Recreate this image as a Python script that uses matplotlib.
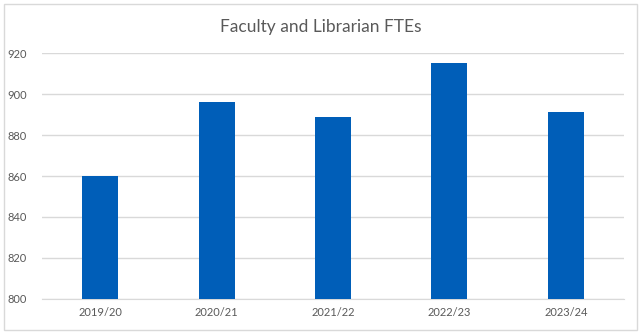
from matplotlib import pyplot as plt
from matplotlib.patches import Rectangle

# データ
years = ['2019/20', '2020/21', '2021/22', '2022/23', '2023/24']
ftes = [860, 896, 889, 915, 891]

plt.rcParams['font.family'] = ['Lato', 'DejaVu Sans']

fig = plt.figure(figsize=(6.41, 3.34), dpi=100)
ax = fig.add_axes([0.0655, 0.1048, 0.908, 0.7365])

ax.bar(range(len(years)), ftes, width=0.31, color='#005EB8', zorder=3)
ax.set_xlim(-0.5, len(years) - 0.5)
ax.set_ylim(800, 920)
ax.set_yticks(range(800, 921, 20))
ax.set_xticks(range(len(years)))
ax.set_xticklabels(years)

ax.grid(axis='y', color='#D9D9D9', linewidth=1, zorder=0)
for s in ['top', 'right', 'left']:
    ax.spines[s].set_visible(False)
ax.spines['bottom'].set_color('#D9D9D9')
ax.tick_params(length=0, labelsize=8, colors='#595959', pad=6)
ax.tick_params(axis='y', pad=11)

fig.text(0.5, 0.918, 'Faculty and Librarian FTEs', ha='center', va='center',
         fontsize=12.5, color='#595959')

# 外枠
fig.patches.append(Rectangle((0.006, 0.012), 0.988, 0.975, transform=fig.transFigure,
                             fill=False, edgecolor='#D9D9D9', linewidth=1))

fig.savefig('out.png', dpi=100)
